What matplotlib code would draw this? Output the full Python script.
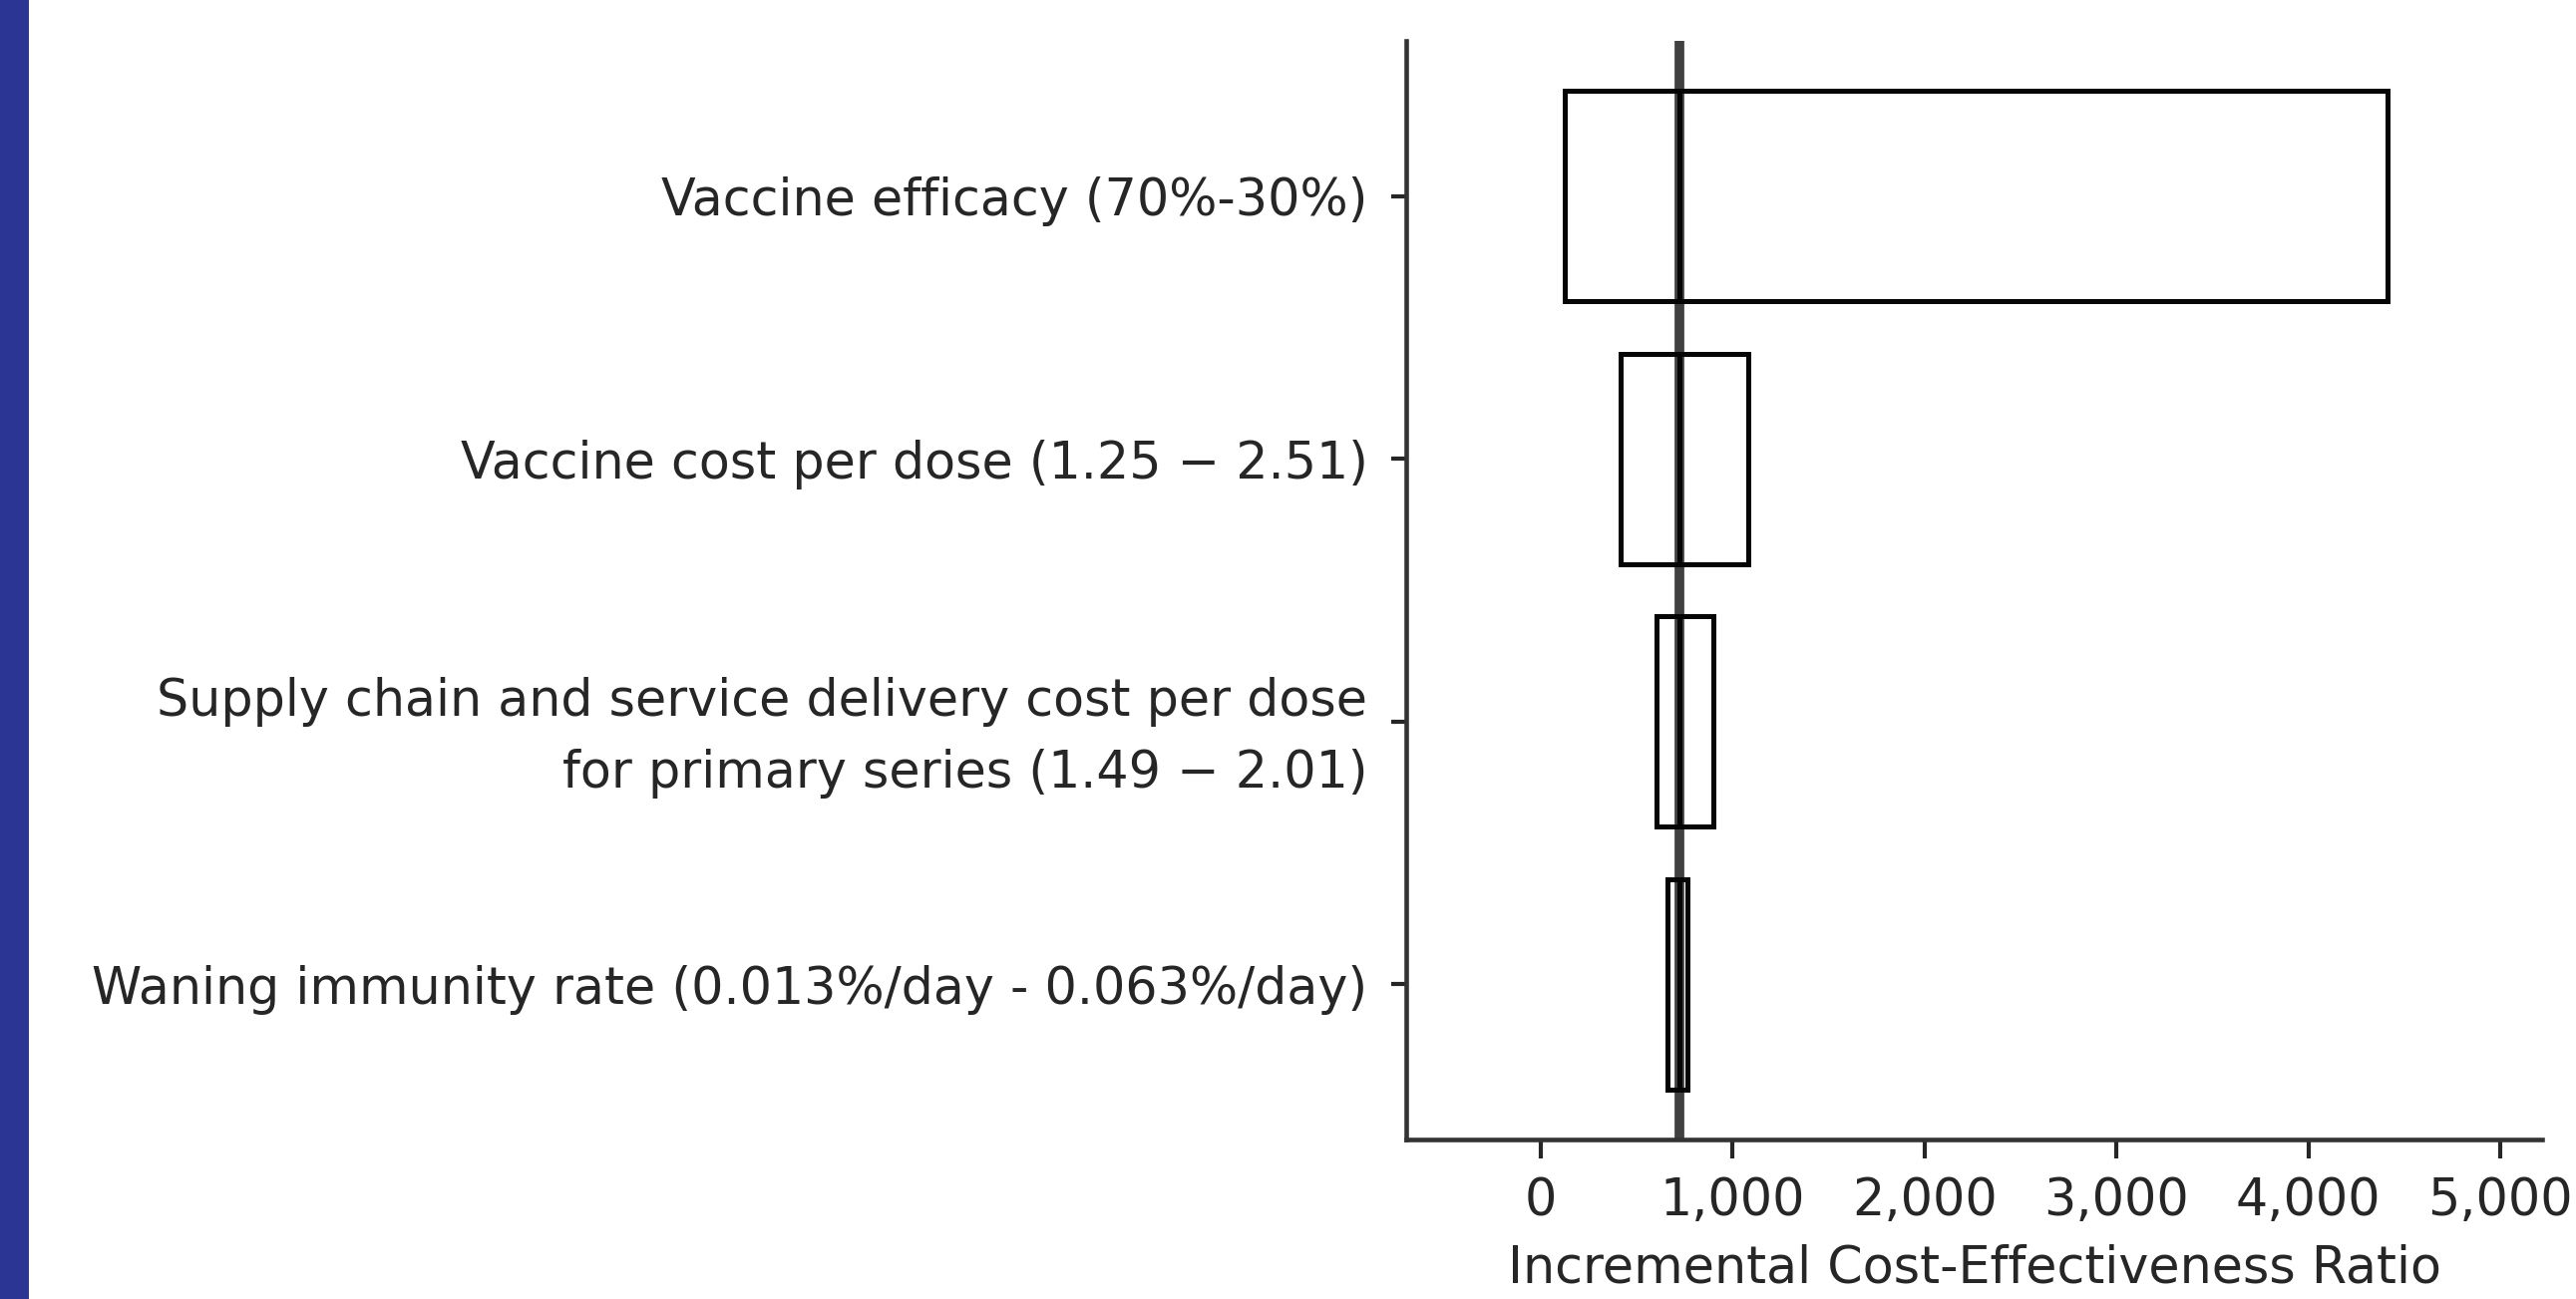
import matplotlib
matplotlib.use("Agg")
import matplotlib.pyplot as plt
from matplotlib.patches import Rectangle
from matplotlib.ticker import FuncFormatter
from matplotlib.transforms import ScaledTranslation

# tornado data (ICER)
labels = [
    "Vaccine efficacy (70%-30%)",
    "Vaccine cost per dose (1.25 \u2212 2.51)",
    "Supply chain and service delivery cost per dose\nfor primary series (1.49 \u2212 2.01)",
    "Waning immunity rate (0.013%/day - 0.063%/day)",
]
low = [125, 415, 603, 662]
high = [4410, 1082, 898, 765]
base = 722
xticks = [0, 1000, 2000, 3000, 4000, 5000]

INK = "#262626"
EDGE = "#050505"
FS = 36.5

fig = plt.figure(figsize=(25.83, 13.03), dpi=100)
fig.patch.set_facecolor("white")
fig.patches.append(Rectangle((0, 0), 29 / 2583, 1, transform=fig.transFigure,
                             facecolor="#2b3594", edgecolor="none"))

ax = fig.add_axes([0.546, 0.1228, 0.441, 0.8457])
ypos = list(range(len(labels)))
ax.axvline(base, color="#404040", linewidth=7, zorder=1)
# low side and high side, split at the base value
ax.barh(ypos, [b - base for b in low], left=base, height=0.8, fill=False,
        edgecolor=EDGE, linewidth=3.6, zorder=2)
ax.barh(ypos, [h - base for h in high], left=base, height=0.8, fill=False,
        edgecolor=EDGE, linewidth=3.6, zorder=2)

ax.set_yticks(ypos)
ax.set_yticklabels(labels, fontsize=FS, color=INK, ha="right",
                   multialignment="right", linespacing=1.55)
# the two-line label sits a bit higher in the original
two = ax.get_yticklabels()[2]
two.set_transform(two.get_transform() + ScaledTranslation(0, 0.12, fig.dpi_scale_trans))
ax.set_ylim(3.59, -0.59)
ax.set_xlim(-700, 5220)
ax.set_xticks(xticks)
ax.xaxis.set_major_formatter(FuncFormatter(lambda v, p: f"{int(v):,}"))
ax.tick_params(axis="x", labelsize=FS, colors=INK, length=14, width=3, pad=13)
ax.tick_params(axis="y", colors=INK, length=11, width=3, pad=17)
ax.set_xlabel("Incremental Cost-Effectiveness Ratio", fontsize=FS, color=INK, labelpad=12)

for s in ["top", "right"]:
    ax.spines[s].set_visible(False)
for s in ["left", "bottom"]:
    ax.spines[s].set_linewidth(3.3)
    ax.spines[s].set_color("#333333")

fig.savefig("out.png", dpi=100, facecolor="white")
